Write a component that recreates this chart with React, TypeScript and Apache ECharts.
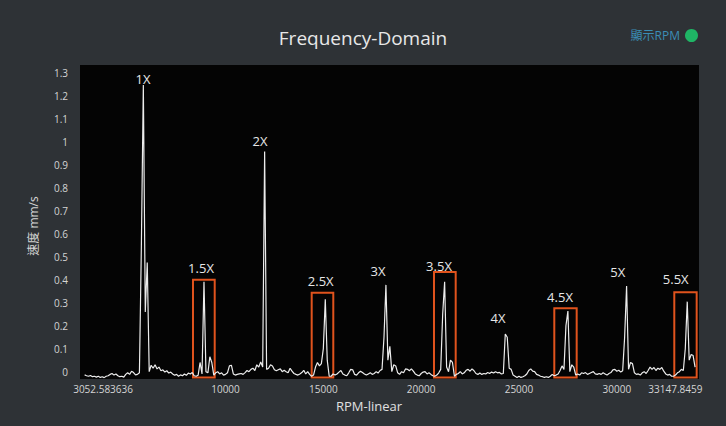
import React, { useEffect, useRef } from "react";
import * as echarts from "echarts";

// Spectrum sampled on a uniform RPM grid
const RPM_START = 2800;
const RPM_STEP = 100;
const amplitudes: number[] = [
  -0.014, -0.018, -0.02, -0.017, -0.022, -0.02, -0.024, -0.02, -0.025, -0.022,
  -0.026, -0.02, -0.018, -0.012, -0.008, -0.015, -0.01, -0.018, -0.022, -0.02,
  -0.024, -0.012, -0.005, -0.012, 0.002, -0.004, -0.014, -0.012, -0.005, 0.55,
  1.249, 0.26, 0.475, 0.0, 0.028, 0.015, 0.03, 0.012, 0.02, 0.004,
  0.008, -0.002, 0.004, -0.006, -0.002, -0.01, -0.016, -0.012, -0.02, -0.014,
  -0.018, -0.01, -0.016, -0.006, -0.01, -0.004, -0.018, -0.02, -0.016, 0.04,
  -0.01, 0.392, 0.0, -0.005, 0.065, 0.04, -0.015, -0.005, 0.0, -0.01,
  -0.005, -0.015, -0.012, -0.005, 0.025, 0.028, -0.01, -0.015, -0.012, -0.01,
  -0.008, -0.012, -0.004, 0.005, 0.0, 0.01, 0.015, 0.005, 0.03, 0.02,
  0.042, 0.02, 0.959, 0.01, 0.015, 0.03, 0.025, 0.008, 0.004, 0.008,
  0.012, 0.0, 0.006, 0.0, -0.005, 0.015, 0.002, -0.008, -0.012, -0.015,
  -0.01, -0.004, 0.006, -0.01, 0.0, -0.012, -0.02, -0.015, 0.02, 0.04,
  0.025, 0.035, 0.1, 0.315, 0.05, -0.02, -0.02, -0.01, -0.015, -0.01,
  -0.002, 0.005, -0.01, -0.015, -0.018, -0.005, 0.01, 0.008, -0.012, -0.015,
  -0.005, 0.002, -0.004, -0.01, -0.015, -0.01, -0.005, -0.012, -0.008, 0.0,
  -0.006, 0.005, 0.01, 0.15, 0.378, 0.05, 0.11, 0.0, 0.03, 0.025,
  -0.005, -0.012, 0.0, -0.005, 0.012, 0.01, 0.004, 0.012, 0.002, -0.01,
  -0.015, -0.018, -0.008, -0.002, 0.0, -0.01, -0.005, -0.012, -0.018, -0.02,
  -0.015, -0.005, 0.01, 0.25, 0.392, 0.02, 0.0, 0.05, 0.04, -0.02,
  -0.012, -0.008, 0.0, -0.01, -0.005, 0.006, 0.01, 0.002, 0.012, 0.004,
  -0.008, -0.012, -0.006, -0.012, -0.008, -0.01, -0.004, -0.008, -0.002, -0.006,
  0.0, -0.005, -0.003, -0.01, -0.008, 0.164, 0.15, 0.015, 0.01, -0.015,
  -0.02, -0.025, -0.02, -0.025, -0.022, -0.018, -0.01, 0.005, 0.012, 0.002,
  0.0, -0.012, -0.015, -0.02, -0.022, -0.025, -0.022, -0.025, -0.02, -0.012,
  -0.018, -0.015, -0.01, 0.005, 0.025, 0.01, 0.2, 0.264, 0.0, 0.03,
  0.02, -0.015, -0.01, -0.015, -0.005, -0.008, -0.004, -0.012, -0.008, -0.004,
  0.0, -0.01, -0.012, -0.008, -0.012, -0.005, -0.01, -0.015, -0.008, -0.004,
  0.008, 0.01, 0.002, 0.006, -0.002, 0.004, 0.15, 0.373, 0.01, 0.04,
  0.035, -0.005, -0.012, -0.01, -0.015, -0.005, 0.0, -0.008, 0.005, 0.02,
  0.01, 0.018, 0.005, 0.015, 0.01, 0.018, 0.002, -0.01, -0.015, -0.012,
  -0.02, -0.02, -0.015, -0.005, 0.0, 0.01, 0.005, 0.1, 0.305, 0.05,
  0.075, 0.07, 0.02,
];

const xTickValues = [3052.583636, 10000, 15000, 20000, 25000, 30000, 33147.8459];
const yTickValues = [0, 0.1, 0.2, 0.3, 0.4, 0.5, 0.6, 0.7, 0.8, 0.9, 1, 1.1, 1.2, 1.3];

const harmonicNames = ["1X", "1.5X", "2X", "2.5X", "3X", "3.5X", "4X", "4.5X", "5X", "5.5X"];
const harmonicLabelRpm = [5783, 8747, 11763, 14865, 17794, 20912, 23927, 27096, 30045, 33010];
const harmonicLabelAmp = [1.275, 0.453, 1.007, 0.395, 0.44, 0.462, 0.234, 0.327, 0.433, 0.404];

const boxRpmFrom = [8338, 14405, 20656, 26805, 32938];
const boxRpmTo = [9448, 15509, 21765, 27949, 34082];
const boxTop = [0.4, 0.344, 0.434, 0.276, 0.346];
const BOX_BOTTOM = -0.026;

const X_MIN = 2563;
const X_MAX = 34201;
const Y_MIN = -0.032;
const Y_MAX = 1.336;

const FONT = "'Open Sans', 'Noto Sans CJK TC', sans-serif";

export default function App() {
  const ref = useRef<HTMLDivElement>(null);

  useEffect(() => {
    if (!ref.current) return;
    const chart = echarts.init(ref.current, undefined, { renderer: "svg" });
    const seriesData = amplitudes.map((a, i) => [RPM_START + i * RPM_STEP, a]);

    chart.setOption({
      animation: false,
      backgroundColor: "#2e3236",
      textStyle: { fontFamily: FONT },
      title: {
        text: "Frequency-Domain",
        left: "center",
        top: 23,
        textStyle: { color: "#e8e8e8", fontSize: 19, fontWeight: "normal", fontFamily: FONT },
      },
      legend: {
        right: 23,
        top: 24,
        align: "right",
        selectedMode: false,
        itemWidth: 13,
        itemHeight: 13,
        icon: "circle",
        textStyle: { color: "#3b8db5", fontSize: 12, fontFamily: FONT },
        data: [{ name: "顯示RPM", icon: "circle", itemStyle: { color: "#1fb565" } }],
      },
      grid: {
        left: 80,
        right: 27,
        top: 65,
        bottom: 47,
        show: true,
        backgroundColor: "#040404",
        borderWidth: 0,
      },
      xAxis: {
        type: "value",
        min: X_MIN,
        max: X_MAX,
        name: "RPM-linear",
        nameLocation: "middle",
        nameGap: 20,
        nameTextStyle: { color: "#e0e0e0", fontSize: 13, padding: [0, 41, 0, 0] },
        axisLine: { show: false },
        axisTick: { show: false },
        splitLine: { show: false },
        axisLabel: {
          customValues: xTickValues,
          color: "#d4d4d4",
          fontSize: 10,
          margin: 5,
          hideOverlap: false,
          formatter: (v: number) => {
            if (v === xTickValues[0]) return "{a|" + String(v) + "}";
            if (v === xTickValues[xTickValues.length - 1]) return "{b|" + String(v) + "}";
            return String(v);
          },
          rich: {
            a: { fontSize: 10, color: "#d4d4d4", padding: [0, 0, 0, 27] },
            b: { fontSize: 10, color: "#d4d4d4", padding: [0, 6, 0, 0] },
          },
        },
      },
      yAxis: {
        type: "value",
        min: Y_MIN,
        max: Y_MAX,
        name: "速度 mm/s",
        nameLocation: "middle",
        nameGap: 41,
        nameTextStyle: { color: "#d4d4d4", fontSize: 12, padding: [0, 8, 0, 0] },
        axisLine: { show: false },
        axisTick: { show: false },
        splitLine: { show: false },
        axisLabel: {
          customValues: yTickValues,
          color: "#d4d4d4",
          fontSize: 10,
          margin: 12,
          hideOverlap: false,
          formatter: (v: number) => String(v),
        },
      },
      series: [
        {
          name: "顯示RPM",
          type: "line",
          data: seriesData,
          showSymbol: false,
          symbol: "none",
          lineStyle: { color: "#ececec", width: 1.2 },
          itemStyle: { color: "#ececec" },
          markArea: {
            silent: true,
            itemStyle: { color: "rgba(0,0,0,0)", borderColor: "#e0531d", borderWidth: 2 },
            label: { show: false },
            data: boxRpmFrom.map((from, k) => [
              { xAxis: from, yAxis: boxTop[k] },
              { xAxis: boxRpmTo[k], yAxis: BOX_BOTTOM },
            ]),
          },
          markPoint: {
            silent: true,
            symbol: "circle",
            symbolSize: 0,
            itemStyle: { color: "rgba(0,0,0,0)" },
            label: {
              show: true,
              position: "inside",
              color: "#e6e6e6",
              fontSize: 13,
              fontFamily: FONT,
              formatter: (p: any) => p.name,
            },
            data: harmonicNames.map((n, k) => ({
              name: n,
              coord: [harmonicLabelRpm[k], harmonicLabelAmp[k]],
            })),
          },
        },
      ],
    });

    return () => chart.dispose();
  }, []);

  return (
    <div
      ref={ref}
      style={{ position: "fixed", left: 0, top: 0, width: 726, height: 426 }}
    />
  );
}
